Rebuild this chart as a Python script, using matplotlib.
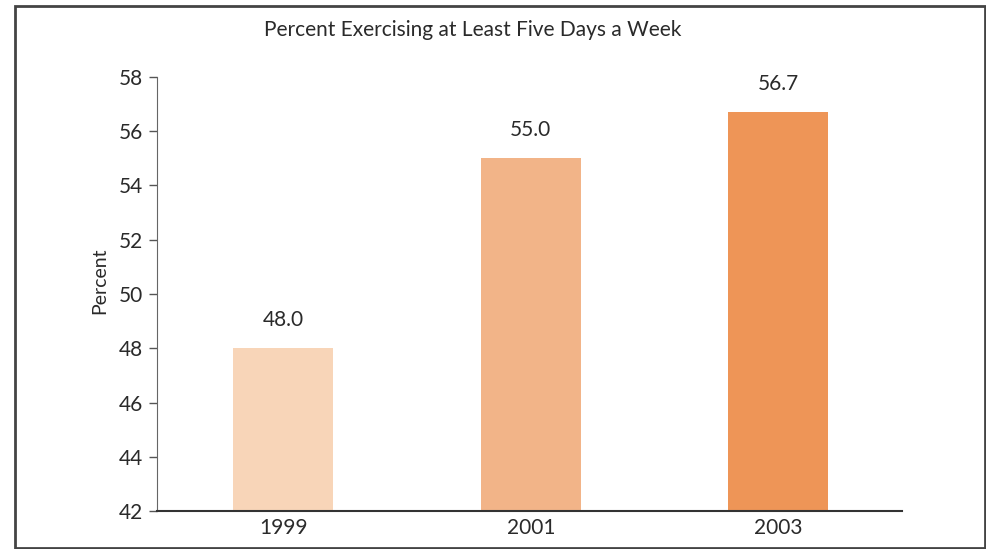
import matplotlib.pyplot as plt
from matplotlib.patches import Rectangle

# Data
years = ['1999', '2001', '2003']
percent = [48.0, 55.0, 56.7]
colors = ['#F8D5B8', '#F2B488', '#EE9557']

plt.rcParams['font.family'] = ['Lato', 'DejaVu Sans']

fig = plt.figure(figsize=(9.87, 5.49), dpi=100)
ax = fig.add_axes([0.159, 0.069, 0.755, 0.791])

x = range(len(years))
bars = ax.bar(x, percent, width=0.404, color=colors, bottom=0)

for xi, v in zip(x, percent):
    ax.annotate(f'{v:.1f}', (xi, v), xytext=(0, 13), textcoords='offset points',
                ha='center', va='bottom', fontsize=15, color='#2a2a2a')

ax.set_ylim(42, 58)
ax.set_xlim(-0.51, 2.5)
ax.set_yticks(range(42, 59, 2))
ax.set_xticks(list(x))
ax.set_xticklabels(years)
ax.tick_params(axis='y', length=6, width=1, color='#555555', labelsize=15,
               labelcolor='#2a2a2a', pad=4)
ax.tick_params(axis='x', length=0, labelsize=15, labelcolor='#2a2a2a', pad=5)

ax.spines['top'].set_visible(False)
ax.spines['right'].set_visible(False)
ax.spines['left'].set_color('#666666')
ax.spines['bottom'].set_color('#333333')
ax.spines['bottom'].set_linewidth(1.5)

ax.set_ylabel('Percent', fontsize=14, color='#2a2a2a')
ax.yaxis.set_label_coords(-0.066, 0.53)
fig.text(0.479, 0.945, 'Percent Exercising at Least Five Days a Week',
         ha='center', va='center', fontsize=15, color='#2a2a2a')

# Outer frame
fig.patches.append(Rectangle((0.015, 0.002), 0.983, 0.987, transform=fig.transFigure,
                             fill=False, edgecolor='#444444', linewidth=2))

plt.savefig('out.png', dpi=100)
